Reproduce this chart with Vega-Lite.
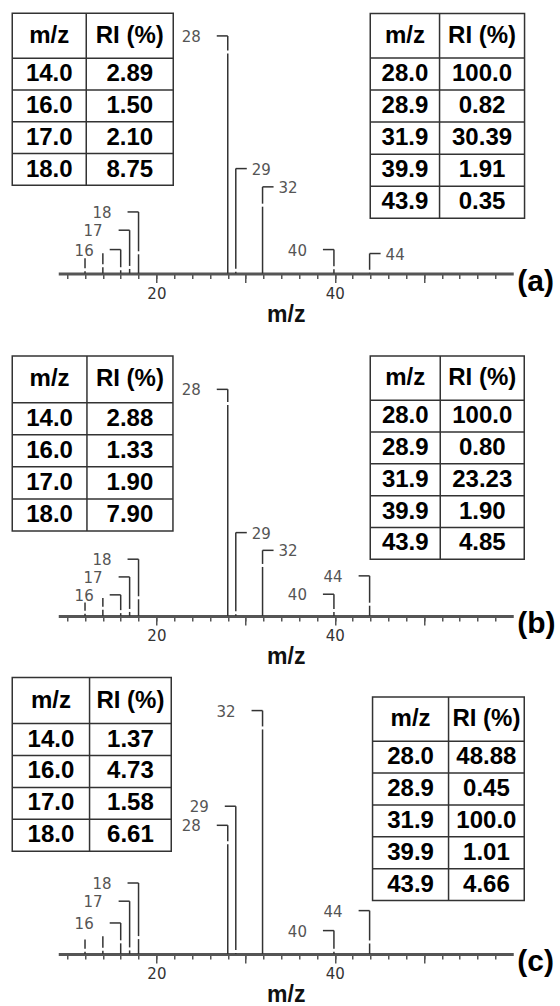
{
  "$schema": "https://vega.github.io/schema/vega-lite/v6.json",
  "background": "white",
  "padding": {"left": 11.25, "top": 12.25, "right": 5, "bottom": 5},
  "config": {"view": {"stroke": null}, "axis": {"grid": false}, "axisY": {"disable": true}},
  "datasets": {
    "peaksA": [
      {"mz": 12, "ri": 1.0, "lab": "", "ly": 7.0, "side": "N"},
      {"mz": 14, "ri": 2.89, "lab": "", "ly": 9.2, "side": "N"},
      {"mz": 16, "ri": 1.50, "lab": "16", "ly": 10.9, "side": "L"},
      {"mz": 17, "ri": 2.10, "lab": "17", "ly": 19.7, "side": "L"},
      {"mz": 18, "ri": 8.75, "lab": "18", "ly": 28.0, "side": "L"},
      {"mz": 28.0, "ri": 100.0, "lab": "28", "ly": 108.0, "side": "L"},
      {"mz": 28.9, "ri": 0.82, "lab": "29", "ly": 47.7, "side": "R"},
      {"mz": 31.9, "ri": 30.39, "lab": "32", "ly": 39.4, "side": "R"},
      {"mz": 39.9, "ri": 1.91, "lab": "40", "ly": 10.9, "side": "L"},
      {"mz": 43.9, "ri": 0.35, "lab": "44", "ly": 9.1, "side": "R"}
    ],
    "peaksB": [
      {"mz": 12, "ri": 1.0, "lab": "", "ly": 6.4, "side": "N"},
      {"mz": 14, "ri": 2.88, "lab": "", "ly": 8.5, "side": "N"},
      {"mz": 16, "ri": 1.33, "lab": "16", "ly": 10.0, "side": "L"},
      {"mz": 17, "ri": 1.90, "lab": "17", "ly": 18.5, "side": "L"},
      {"mz": 18, "ri": 7.90, "lab": "18", "ly": 26.9, "side": "L"},
      {"mz": 28.0, "ri": 100.0, "lab": "28", "ly": 107.4, "side": "L"},
      {"mz": 28.9, "ri": 0.80, "lab": "29", "ly": 39.5, "side": "R"},
      {"mz": 31.9, "ri": 23.23, "lab": "32", "ly": 31.1, "side": "R"},
      {"mz": 39.9, "ri": 1.90, "lab": "40", "ly": 10.3, "side": "L"},
      {"mz": 43.9, "ri": 4.85, "lab": "44", "ly": 19.0, "side": "L"}
    ],
    "peaksC": [
      {"mz": 12, "ri": 1.0, "lab": "", "ly": 6.4, "side": "N"},
      {"mz": 14, "ri": 1.37, "lab": "", "ly": 7.9, "side": "N"},
      {"mz": 16, "ri": 4.73, "lab": "16", "ly": 13.8, "side": "L"},
      {"mz": 17, "ri": 1.58, "lab": "17", "ly": 23.5, "side": "L"},
      {"mz": 18, "ri": 6.61, "lab": "18", "ly": 31.6, "side": "L"},
      {"mz": 28.0, "ri": 48.88, "lab": "28", "ly": 57.3, "side": "L"},
      {"mz": 28.9, "ri": 0.45, "lab": "29", "ly": 65.8, "side": "L"},
      {"mz": 31.9, "ri": 100.0, "lab": "32", "ly": 108.4, "side": "L"},
      {"mz": 39.9, "ri": 1.01, "lab": "40", "ly": 10.4, "side": "L"},
      {"mz": 43.9, "ri": 4.66, "lab": "44", "ly": 19.3, "side": "L"}
    ],
    "tabAL": [
      {"r": 0, "mz": "m/z", "ri": "RI (%)"},
      {"r": 1, "mz": "14.0", "ri": "2.89"},
      {"r": 2, "mz": "16.0", "ri": "1.50"},
      {"r": 3, "mz": "17.0", "ri": "2.10"},
      {"r": 4, "mz": "18.0", "ri": "8.75"}
    ],
    "tabAR": [
      {"r": 0, "mz": "m/z", "ri": "RI (%)"},
      {"r": 1, "mz": "28.0", "ri": "100.0"},
      {"r": 2, "mz": "28.9", "ri": "0.82"},
      {"r": 3, "mz": "31.9", "ri": "30.39"},
      {"r": 4, "mz": "39.9", "ri": "1.91"},
      {"r": 5, "mz": "43.9", "ri": "0.35"}
    ],
    "tabBL": [
      {"r": 0, "mz": "m/z", "ri": "RI (%)"},
      {"r": 1, "mz": "14.0", "ri": "2.88"},
      {"r": 2, "mz": "16.0", "ri": "1.33"},
      {"r": 3, "mz": "17.0", "ri": "1.90"},
      {"r": 4, "mz": "18.0", "ri": "7.90"}
    ],
    "tabBR": [
      {"r": 0, "mz": "m/z", "ri": "RI (%)"},
      {"r": 1, "mz": "28.0", "ri": "100.0"},
      {"r": 2, "mz": "28.9", "ri": "0.80"},
      {"r": 3, "mz": "31.9", "ri": "23.23"},
      {"r": 4, "mz": "39.9", "ri": "1.90"},
      {"r": 5, "mz": "43.9", "ri": "4.85"}
    ],
    "tabCL": [
      {"r": 0, "mz": "m/z", "ri": "RI (%)"},
      {"r": 1, "mz": "14.0", "ri": "1.37"},
      {"r": 2, "mz": "16.0", "ri": "4.73"},
      {"r": 3, "mz": "17.0", "ri": "1.58"},
      {"r": 4, "mz": "18.0", "ri": "6.61"}
    ],
    "tabCR": [
      {"r": 0, "mz": "m/z", "ri": "RI (%)"},
      {"r": 1, "mz": "28.0", "ri": "48.88"},
      {"r": 2, "mz": "28.9", "ri": "0.45"},
      {"r": 3, "mz": "31.9", "ri": "100.0"},
      {"r": 4, "mz": "39.9", "ri": "1.01"},
      {"r": 5, "mz": "43.9", "ri": "4.66"}
    ]
  },
  "bounds": "flush",
  "spacing": 40,
  "resolve": {"scale": {"x": "independent", "y": "independent"}},
  "vconcat": [
    {
      "width": 455, "height": 260.3,
      "resolve": {"scale": {"x": "independent", "y": "independent"}},
      "layer": [
        {
          "data": {"name": "peaksA"},
          "resolve": {"axis": {"x": "independent"}},
          "layer": [
            {"mark": {"type": "rule", "color": "#333", "strokeWidth": 1.5},
             "encoding": {
               "x": {"field": "mz", "type": "quantitative", "scale": {"domain": [9, 60], "nice": false, "zero": false},
                     "axis": {"orient": "bottom", "values": [10,12,14,16,18,20,22,24,26,28,30,32,34,36,38,40,42,44,46,48,50,52,54,56,58], "tickSize": 5, "tickWidth": 1.5, "tickColor": "#555", "labels": false, "domain": true, "domainWidth": 3, "domainColor": "#555", "title": null}},
               "y": {"field": "ri", "type": "quantitative", "scale": {"domain": [0, 118.3], "nice": false, "zero": false}, "axis": null},
               "y2": {"datum": 0}}},
            {"mark": {"type": "rule", "color": "#333", "strokeWidth": 1.5, "yOffset": -3},
             "encoding": {
               "x": {"field": "mz", "type": "quantitative",
                     "axis": {"orient": "bottom", "values": [20, 30, 40, 50], "tickSize": 9, "tickWidth": 1.5, "tickColor": "#555", "domain": false, "labelExpr": "datum.value == 20 || datum.value == 40 ? datum.label : ''", "labelFont": "DejaVu Sans", "labelFontSize": 15, "labelColor": "#333", "labelPadding": 4, "title": "m/z", "titleFont": "Liberation Sans", "titleFontSize": 23, "titleFontWeight": "bold", "titleColor": "#111", "titlePadding": 2}},
               "y": {"field": "ri", "type": "quantitative", "axis": null},
               "y2": {"field": "ly"}}},
            {"transform": [{"filter": "datum.side == 'L'"}],
             "mark": {"type": "rule", "color": "#333", "strokeWidth": 1.5, "x2Offset": -11},
             "encoding": {"x": {"field": "mz", "type": "quantitative", "axis": null}, "x2": {"field": "mz"}, "y": {"field": "ly", "type": "quantitative", "axis": null}}},
            {"transform": [{"filter": "datum.side == 'R'"}],
             "mark": {"type": "rule", "color": "#333", "strokeWidth": 1.5, "x2Offset": 11},
             "encoding": {"x": {"field": "mz", "type": "quantitative", "axis": null}, "x2": {"field": "mz"}, "y": {"field": "ly", "type": "quantitative", "axis": null}}},
            {"transform": [{"filter": "datum.side == 'L'"}],
             "mark": {"type": "text", "font": "DejaVu Sans", "fontSize": 15, "color": "#555", "align": "right", "baseline": "middle", "dx": -27, "dy": 1},
             "encoding": {"x": {"field": "mz", "type": "quantitative", "axis": null}, "y": {"field": "ly", "type": "quantitative", "axis": null}, "text": {"field": "lab"}}},
            {"transform": [{"filter": "datum.side == 'R'"}],
             "mark": {"type": "text", "font": "DejaVu Sans", "fontSize": 15, "color": "#555", "align": "left", "baseline": "middle", "dx": 16, "dy": 1},
             "encoding": {"x": {"field": "mz", "type": "quantitative", "axis": null}, "y": {"field": "ly", "type": "quantitative", "axis": null}, "text": {"field": "lab"}}},
            {"data": {"values": [{"p": "(a)"}]},
             "mark": {"type": "text", "font": "Liberation Sans", "fontSize": 30, "fontWeight": "bold", "color": "#000", "align": "left", "baseline": "middle", "dx": 4, "dy": 8},
             "encoding": {"x": {"datum": 60, "type": "quantitative", "axis": null}, "y": {"datum": 0, "type": "quantitative", "axis": null}, "text": {"field": "p"}}}
          ]
        },
        {
          "data": {"name": "tabAL"},
          "layer": [
            {"transform": [{"filter": "datum.r > 0"}],
             "mark": {"type": "rule", "color": "#333", "strokeWidth": 1.5},
             "encoding": {
               "x": {"datum": 0, "type": "quantitative", "scale": {"domain": [0, 1, 2], "range": [-46, 28, 115], "zero": false, "nice": false}, "axis": null},
               "x2": {"datum": 2},
               "y": {"field": "r", "type": "quantitative", "scale": {"domain": [0, 1, 5], "range": [0, 45, 172], "zero": false, "nice": false}, "axis": null}}},
            {"transform": [{"filter": "datum.r > 0"}],
             "mark": {"type": "text", "font": "Liberation Sans", "fontSize": 24, "fontWeight": "bold", "color": "#000", "baseline": "middle", "dy": 16},
             "encoding": {"x": {"datum": 0.5, "type": "quantitative", "axis": null}, "y": {"field": "r", "type": "quantitative", "axis": null}, "text": {"field": "mz"}}},
            {"transform": [{"filter": "datum.r > 0"}],
             "mark": {"type": "text", "font": "Liberation Sans", "fontSize": 24, "fontWeight": "bold", "color": "#000", "baseline": "middle", "dy": 16},
             "encoding": {"x": {"datum": 1.5, "type": "quantitative", "axis": null}, "y": {"field": "r", "type": "quantitative", "axis": null}, "text": {"field": "ri"}}},
            {"transform": [{"filter": "datum.r == 0"}],
             "mark": {"type": "text", "font": "Liberation Sans", "fontSize": 24, "fontWeight": "bold", "color": "#000", "baseline": "middle", "dy": 22.5},
             "encoding": {"x": {"datum": 0.5, "type": "quantitative", "axis": null}, "y": {"field": "r", "type": "quantitative", "axis": null}, "text": {"field": "mz"}}},
            {"transform": [{"filter": "datum.r == 0"}],
             "mark": {"type": "text", "font": "Liberation Sans", "fontSize": 24, "fontWeight": "bold", "color": "#000", "baseline": "middle", "dy": 22.5},
             "encoding": {"x": {"datum": 1.5, "type": "quantitative", "axis": null}, "y": {"field": "r", "type": "quantitative", "axis": null}, "text": {"field": "ri"}}},
            {"transform": [{"filter": "datum.r == 0"}],
             "mark": {"type": "rect", "filled": false, "color": "#333", "strokeWidth": 1.5},
             "encoding": {"x": {"datum": 0, "type": "quantitative", "axis": null}, "x2": {"datum": 2}, "y": {"datum": 0, "type": "quantitative", "axis": null}, "y2": {"datum": 5}}},
            {"transform": [{"filter": "datum.r == 0"}],
             "mark": {"type": "rule", "color": "#333", "strokeWidth": 1.5},
             "encoding": {"x": {"datum": 1, "type": "quantitative", "axis": null}, "y": {"datum": 0, "type": "quantitative", "axis": null}, "y2": {"datum": 5}}}
          ]
        },
        {
          "data": {"name": "tabAR"},
          "layer": [
            {"transform": [{"filter": "datum.r > 0"}],
             "mark": {"type": "rule", "color": "#333", "strokeWidth": 1.5},
             "encoding": {
               "x": {"datum": 0, "type": "quantitative", "scale": {"domain": [0, 1, 2], "range": [312, 381.3, 466.3], "zero": false, "nice": false}, "axis": null},
               "x2": {"datum": 2},
               "y": {"field": "r", "type": "quantitative", "scale": {"domain": [0, 1, 6], "range": [0.3, 44.7, 205], "zero": false, "nice": false}, "axis": null}}},
            {"transform": [{"filter": "datum.r > 0"}],
             "mark": {"type": "text", "font": "Liberation Sans", "fontSize": 24, "fontWeight": "bold", "color": "#000", "baseline": "middle", "dy": 16},
             "encoding": {"x": {"datum": 0.5, "type": "quantitative", "axis": null}, "y": {"field": "r", "type": "quantitative", "axis": null}, "text": {"field": "mz"}}},
            {"transform": [{"filter": "datum.r > 0"}],
             "mark": {"type": "text", "font": "Liberation Sans", "fontSize": 24, "fontWeight": "bold", "color": "#000", "baseline": "middle", "dy": 16},
             "encoding": {"x": {"datum": 1.5, "type": "quantitative", "axis": null}, "y": {"field": "r", "type": "quantitative", "axis": null}, "text": {"field": "ri"}}},
            {"transform": [{"filter": "datum.r == 0"}],
             "mark": {"type": "text", "font": "Liberation Sans", "fontSize": 24, "fontWeight": "bold", "color": "#000", "baseline": "middle", "dy": 22},
             "encoding": {"x": {"datum": 0.5, "type": "quantitative", "axis": null}, "y": {"field": "r", "type": "quantitative", "axis": null}, "text": {"field": "mz"}}},
            {"transform": [{"filter": "datum.r == 0"}],
             "mark": {"type": "text", "font": "Liberation Sans", "fontSize": 24, "fontWeight": "bold", "color": "#000", "baseline": "middle", "dy": 22},
             "encoding": {"x": {"datum": 1.5, "type": "quantitative", "axis": null}, "y": {"field": "r", "type": "quantitative", "axis": null}, "text": {"field": "ri"}}},
            {"transform": [{"filter": "datum.r == 0"}],
             "mark": {"type": "rect", "filled": false, "color": "#333", "strokeWidth": 1.5},
             "encoding": {"x": {"datum": 0, "type": "quantitative", "axis": null}, "x2": {"datum": 2}, "y": {"datum": 0, "type": "quantitative", "axis": null}, "y2": {"datum": 6}}},
            {"transform": [{"filter": "datum.r == 0"}],
             "mark": {"type": "rule", "color": "#333", "strokeWidth": 1.5},
             "encoding": {"x": {"datum": 1, "type": "quantitative", "axis": null}, "y": {"datum": 0, "type": "quantitative", "axis": null}, "y2": {"datum": 6}}}
          ]
        }
      ]
    },
    {
      "width": 455, "height": 301.7,
      "resolve": {"scale": {"x": "independent", "y": "independent"}},
      "layer": [
        {
          "data": {"name": "peaksB"},
          "resolve": {"axis": {"x": "independent"}},
          "layer": [
            {"mark": {"type": "rule", "color": "#333", "strokeWidth": 1.5},
             "encoding": {
               "x": {"field": "mz", "type": "quantitative", "scale": {"domain": [9, 60], "nice": false, "zero": false},
                     "axis": {"orient": "bottom", "values": [10,12,14,16,18,20,22,24,26,28,30,32,34,36,38,40,42,44,46,48,50,52,54,56,58], "tickSize": 5, "tickWidth": 1.5, "tickColor": "#555", "labels": false, "domain": true, "domainWidth": 3, "domainColor": "#555", "title": null}},
               "y": {"field": "ri", "type": "quantitative", "scale": {"domain": [0, 143.0], "nice": false, "zero": false}, "axis": null},
               "y2": {"datum": 0}}},
            {"mark": {"type": "rule", "color": "#333", "strokeWidth": 1.5, "yOffset": -3},
             "encoding": {
               "x": {"field": "mz", "type": "quantitative",
                     "axis": {"orient": "bottom", "values": [20, 30, 40, 50], "tickSize": 9, "tickWidth": 1.5, "tickColor": "#555", "domain": false, "labelExpr": "datum.value == 20 || datum.value == 40 ? datum.label : ''", "labelFont": "DejaVu Sans", "labelFontSize": 15, "labelColor": "#333", "labelPadding": 4, "title": "m/z", "titleFont": "Liberation Sans", "titleFontSize": 23, "titleFontWeight": "bold", "titleColor": "#111", "titlePadding": 2}},
               "y": {"field": "ri", "type": "quantitative", "axis": null},
               "y2": {"field": "ly"}}},
            {"transform": [{"filter": "datum.side == 'L'"}],
             "mark": {"type": "rule", "color": "#333", "strokeWidth": 1.5, "x2Offset": -11},
             "encoding": {"x": {"field": "mz", "type": "quantitative", "axis": null}, "x2": {"field": "mz"}, "y": {"field": "ly", "type": "quantitative", "axis": null}}},
            {"transform": [{"filter": "datum.side == 'R'"}],
             "mark": {"type": "rule", "color": "#333", "strokeWidth": 1.5, "x2Offset": 11},
             "encoding": {"x": {"field": "mz", "type": "quantitative", "axis": null}, "x2": {"field": "mz"}, "y": {"field": "ly", "type": "quantitative", "axis": null}}},
            {"transform": [{"filter": "datum.side == 'L'"}],
             "mark": {"type": "text", "font": "DejaVu Sans", "fontSize": 15, "color": "#555", "align": "right", "baseline": "middle", "dx": -27, "dy": 1},
             "encoding": {"x": {"field": "mz", "type": "quantitative", "axis": null}, "y": {"field": "ly", "type": "quantitative", "axis": null}, "text": {"field": "lab"}}},
            {"transform": [{"filter": "datum.side == 'R'"}],
             "mark": {"type": "text", "font": "DejaVu Sans", "fontSize": 15, "color": "#555", "align": "left", "baseline": "middle", "dx": 16, "dy": 1},
             "encoding": {"x": {"field": "mz", "type": "quantitative", "axis": null}, "y": {"field": "ly", "type": "quantitative", "axis": null}, "text": {"field": "lab"}}},
            {"data": {"values": [{"p": "(b)"}]},
             "mark": {"type": "text", "font": "Liberation Sans", "fontSize": 30, "fontWeight": "bold", "color": "#000", "align": "left", "baseline": "middle", "dx": 4, "dy": 8},
             "encoding": {"x": {"datum": 60, "type": "quantitative", "axis": null}, "y": {"datum": 0, "type": "quantitative", "axis": null}, "text": {"field": "p"}}}
          ]
        },
        {
          "data": {"name": "tabBL"},
          "layer": [
            {"transform": [{"filter": "datum.r > 0"}],
             "mark": {"type": "rule", "color": "#333", "strokeWidth": 1.5},
             "encoding": {
               "x": {"datum": 0, "type": "quantitative", "scale": {"domain": [0, 1, 2], "range": [-46, 28.7, 114.7], "zero": false, "nice": false}, "axis": null},
               "x2": {"datum": 2},
               "y": {"field": "r", "type": "quantitative", "scale": {"domain": [0, 1, 5], "range": [41.7, 88.4, 216.7], "zero": false, "nice": false}, "axis": null}}},
            {"transform": [{"filter": "datum.r > 0"}],
             "mark": {"type": "text", "font": "Liberation Sans", "fontSize": 24, "fontWeight": "bold", "color": "#000", "baseline": "middle", "dy": 16},
             "encoding": {"x": {"datum": 0.5, "type": "quantitative", "axis": null}, "y": {"field": "r", "type": "quantitative", "axis": null}, "text": {"field": "mz"}}},
            {"transform": [{"filter": "datum.r > 0"}],
             "mark": {"type": "text", "font": "Liberation Sans", "fontSize": 24, "fontWeight": "bold", "color": "#000", "baseline": "middle", "dy": 16},
             "encoding": {"x": {"datum": 1.5, "type": "quantitative", "axis": null}, "y": {"field": "r", "type": "quantitative", "axis": null}, "text": {"field": "ri"}}},
            {"transform": [{"filter": "datum.r == 0"}],
             "mark": {"type": "text", "font": "Liberation Sans", "fontSize": 24, "fontWeight": "bold", "color": "#000", "baseline": "middle", "dy": 23},
             "encoding": {"x": {"datum": 0.5, "type": "quantitative", "axis": null}, "y": {"field": "r", "type": "quantitative", "axis": null}, "text": {"field": "mz"}}},
            {"transform": [{"filter": "datum.r == 0"}],
             "mark": {"type": "text", "font": "Liberation Sans", "fontSize": 24, "fontWeight": "bold", "color": "#000", "baseline": "middle", "dy": 23},
             "encoding": {"x": {"datum": 1.5, "type": "quantitative", "axis": null}, "y": {"field": "r", "type": "quantitative", "axis": null}, "text": {"field": "ri"}}},
            {"transform": [{"filter": "datum.r == 0"}],
             "mark": {"type": "rect", "filled": false, "color": "#333", "strokeWidth": 1.5},
             "encoding": {"x": {"datum": 0, "type": "quantitative", "axis": null}, "x2": {"datum": 2}, "y": {"datum": 0, "type": "quantitative", "axis": null}, "y2": {"datum": 5}}},
            {"transform": [{"filter": "datum.r == 0"}],
             "mark": {"type": "rule", "color": "#333", "strokeWidth": 1.5},
             "encoding": {"x": {"datum": 1, "type": "quantitative", "axis": null}, "y": {"datum": 0, "type": "quantitative", "axis": null}, "y2": {"datum": 5}}}
          ]
        },
        {
          "data": {"name": "tabBR"},
          "layer": [
            {"transform": [{"filter": "datum.r > 0"}],
             "mark": {"type": "rule", "color": "#333", "strokeWidth": 1.5},
             "encoding": {
               "x": {"datum": 0, "type": "quantitative", "scale": {"domain": [0, 1, 2], "range": [312, 382, 466], "zero": false, "nice": false}, "axis": null},
               "x2": {"datum": 2},
               "y": {"field": "r", "type": "quantitative", "scale": {"domain": [0, 1, 6], "range": [41.7, 86, 245], "zero": false, "nice": false}, "axis": null}}},
            {"transform": [{"filter": "datum.r > 0"}],
             "mark": {"type": "text", "font": "Liberation Sans", "fontSize": 24, "fontWeight": "bold", "color": "#000", "baseline": "middle", "dy": 16},
             "encoding": {"x": {"datum": 0.5, "type": "quantitative", "axis": null}, "y": {"field": "r", "type": "quantitative", "axis": null}, "text": {"field": "mz"}}},
            {"transform": [{"filter": "datum.r > 0"}],
             "mark": {"type": "text", "font": "Liberation Sans", "fontSize": 24, "fontWeight": "bold", "color": "#000", "baseline": "middle", "dy": 16},
             "encoding": {"x": {"datum": 1.5, "type": "quantitative", "axis": null}, "y": {"field": "r", "type": "quantitative", "axis": null}, "text": {"field": "ri"}}},
            {"transform": [{"filter": "datum.r == 0"}],
             "mark": {"type": "text", "font": "Liberation Sans", "fontSize": 24, "fontWeight": "bold", "color": "#000", "baseline": "middle", "dy": 22},
             "encoding": {"x": {"datum": 0.5, "type": "quantitative", "axis": null}, "y": {"field": "r", "type": "quantitative", "axis": null}, "text": {"field": "mz"}}},
            {"transform": [{"filter": "datum.r == 0"}],
             "mark": {"type": "text", "font": "Liberation Sans", "fontSize": 24, "fontWeight": "bold", "color": "#000", "baseline": "middle", "dy": 22},
             "encoding": {"x": {"datum": 1.5, "type": "quantitative", "axis": null}, "y": {"field": "r", "type": "quantitative", "axis": null}, "text": {"field": "ri"}}},
            {"transform": [{"filter": "datum.r == 0"}],
             "mark": {"type": "rect", "filled": false, "color": "#333", "strokeWidth": 1.5},
             "encoding": {"x": {"datum": 0, "type": "quantitative", "axis": null}, "x2": {"datum": 2}, "y": {"datum": 0, "type": "quantitative", "axis": null}, "y2": {"datum": 6}}},
            {"transform": [{"filter": "datum.r == 0"}],
             "mark": {"type": "rule", "color": "#333", "strokeWidth": 1.5},
             "encoding": {"x": {"datum": 1, "type": "quantitative", "axis": null}, "y": {"datum": 0, "type": "quantitative", "axis": null}, "y2": {"datum": 6}}}
          ]
        }
      ]
    },
    {
      "width": 455, "height": 297.7,
      "resolve": {"scale": {"x": "independent", "y": "independent"}},
      "layer": [
        {
          "data": {"name": "peaksC"},
          "resolve": {"axis": {"x": "independent"}},
          "layer": [
            {"mark": {"type": "rule", "color": "#333", "strokeWidth": 1.5},
             "encoding": {
               "x": {"field": "mz", "type": "quantitative", "scale": {"domain": [9, 60], "nice": false, "zero": false},
                     "axis": {"orient": "bottom", "values": [10,12,14,16,18,20,22,24,26,28,30,32,34,36,38,40,42,44,46,48,50,52,54,56,58], "tickSize": 5, "tickWidth": 1.5, "tickColor": "#555", "labels": false, "domain": true, "domainWidth": 3, "domainColor": "#555", "title": null}},
               "y": {"field": "ri", "type": "quantitative", "scale": {"domain": [0, 132.6], "nice": false, "zero": false}, "axis": null},
               "y2": {"datum": 0}}},
            {"mark": {"type": "rule", "color": "#333", "strokeWidth": 1.5, "yOffset": -3},
             "encoding": {
               "x": {"field": "mz", "type": "quantitative",
                     "axis": {"orient": "bottom", "values": [20, 30, 40, 50], "tickSize": 9, "tickWidth": 1.5, "tickColor": "#555", "domain": false, "labelExpr": "datum.value == 20 || datum.value == 40 ? datum.label : ''", "labelFont": "DejaVu Sans", "labelFontSize": 15, "labelColor": "#333", "labelPadding": 4, "title": "m/z", "titleFont": "Liberation Sans", "titleFontSize": 23, "titleFontWeight": "bold", "titleColor": "#111", "titlePadding": 2}},
               "y": {"field": "ri", "type": "quantitative", "axis": null},
               "y2": {"field": "ly"}}},
            {"transform": [{"filter": "datum.side == 'L'"}],
             "mark": {"type": "rule", "color": "#333", "strokeWidth": 1.5, "x2Offset": -11},
             "encoding": {"x": {"field": "mz", "type": "quantitative", "axis": null}, "x2": {"field": "mz"}, "y": {"field": "ly", "type": "quantitative", "axis": null}}},
            {"transform": [{"filter": "datum.side == 'R'"}],
             "mark": {"type": "rule", "color": "#333", "strokeWidth": 1.5, "x2Offset": 11},
             "encoding": {"x": {"field": "mz", "type": "quantitative", "axis": null}, "x2": {"field": "mz"}, "y": {"field": "ly", "type": "quantitative", "axis": null}}},
            {"transform": [{"filter": "datum.side == 'L'"}],
             "mark": {"type": "text", "font": "DejaVu Sans", "fontSize": 15, "color": "#555", "align": "right", "baseline": "middle", "dx": -27, "dy": 1},
             "encoding": {"x": {"field": "mz", "type": "quantitative", "axis": null}, "y": {"field": "ly", "type": "quantitative", "axis": null}, "text": {"field": "lab"}}},
            {"transform": [{"filter": "datum.side == 'R'"}],
             "mark": {"type": "text", "font": "DejaVu Sans", "fontSize": 15, "color": "#555", "align": "left", "baseline": "middle", "dx": 16, "dy": 1},
             "encoding": {"x": {"field": "mz", "type": "quantitative", "axis": null}, "y": {"field": "ly", "type": "quantitative", "axis": null}, "text": {"field": "lab"}}},
            {"data": {"values": [{"p": "(c)"}]},
             "mark": {"type": "text", "font": "Liberation Sans", "fontSize": 30, "fontWeight": "bold", "color": "#000", "align": "left", "baseline": "middle", "dx": 4, "dy": 8},
             "encoding": {"x": {"datum": 60, "type": "quantitative", "axis": null}, "y": {"datum": 0, "type": "quantitative", "axis": null}, "text": {"field": "p"}}}
          ]
        },
        {
          "data": {"name": "tabCL"},
          "layer": [
            {"transform": [{"filter": "datum.r > 0"}],
             "mark": {"type": "rule", "color": "#333", "strokeWidth": 1.5},
             "encoding": {
               "x": {"datum": 0, "type": "quantitative", "scale": {"domain": [0, 1, 2], "range": [-46, 31.3, 113], "zero": false, "nice": false}, "axis": null},
               "x2": {"datum": 2},
               "y": {"field": "r", "type": "quantitative", "scale": {"domain": [0, 1, 5], "range": [21.3, 67.3, 195], "zero": false, "nice": false}, "axis": null}}},
            {"transform": [{"filter": "datum.r > 0"}],
             "mark": {"type": "text", "font": "Liberation Sans", "fontSize": 24, "fontWeight": "bold", "color": "#000", "baseline": "middle", "dy": 16},
             "encoding": {"x": {"datum": 0.5, "type": "quantitative", "axis": null}, "y": {"field": "r", "type": "quantitative", "axis": null}, "text": {"field": "mz"}}},
            {"transform": [{"filter": "datum.r > 0"}],
             "mark": {"type": "text", "font": "Liberation Sans", "fontSize": 24, "fontWeight": "bold", "color": "#000", "baseline": "middle", "dy": 16},
             "encoding": {"x": {"datum": 1.5, "type": "quantitative", "axis": null}, "y": {"field": "r", "type": "quantitative", "axis": null}, "text": {"field": "ri"}}},
            {"transform": [{"filter": "datum.r == 0"}],
             "mark": {"type": "text", "font": "Liberation Sans", "fontSize": 24, "fontWeight": "bold", "color": "#000", "baseline": "middle", "dy": 23},
             "encoding": {"x": {"datum": 0.5, "type": "quantitative", "axis": null}, "y": {"field": "r", "type": "quantitative", "axis": null}, "text": {"field": "mz"}}},
            {"transform": [{"filter": "datum.r == 0"}],
             "mark": {"type": "text", "font": "Liberation Sans", "fontSize": 24, "fontWeight": "bold", "color": "#000", "baseline": "middle", "dy": 23},
             "encoding": {"x": {"datum": 1.5, "type": "quantitative", "axis": null}, "y": {"field": "r", "type": "quantitative", "axis": null}, "text": {"field": "ri"}}},
            {"transform": [{"filter": "datum.r == 0"}],
             "mark": {"type": "rect", "filled": false, "color": "#333", "strokeWidth": 1.5},
             "encoding": {"x": {"datum": 0, "type": "quantitative", "axis": null}, "x2": {"datum": 2}, "y": {"datum": 0, "type": "quantitative", "axis": null}, "y2": {"datum": 5}}},
            {"transform": [{"filter": "datum.r == 0"}],
             "mark": {"type": "rule", "color": "#333", "strokeWidth": 1.5},
             "encoding": {"x": {"datum": 1, "type": "quantitative", "axis": null}, "y": {"datum": 0, "type": "quantitative", "axis": null}, "y2": {"datum": 5}}}
          ]
        },
        {
          "data": {"name": "tabCR"},
          "layer": [
            {"transform": [{"filter": "datum.r > 0"}],
             "mark": {"type": "rule", "color": "#333", "strokeWidth": 1.5},
             "encoding": {
               "x": {"datum": 0, "type": "quantitative", "scale": {"domain": [0, 1, 2], "range": [314.3, 390.3, 466], "zero": false, "nice": false}, "axis": null},
               "x2": {"datum": 2},
               "y": {"field": "r", "type": "quantitative", "scale": {"domain": [0, 1, 6], "range": [40.7, 85, 244.3], "zero": false, "nice": false}, "axis": null}}},
            {"transform": [{"filter": "datum.r > 0"}],
             "mark": {"type": "text", "font": "Liberation Sans", "fontSize": 24, "fontWeight": "bold", "color": "#000", "baseline": "middle", "dy": 16},
             "encoding": {"x": {"datum": 0.5, "type": "quantitative", "axis": null}, "y": {"field": "r", "type": "quantitative", "axis": null}, "text": {"field": "mz"}}},
            {"transform": [{"filter": "datum.r > 0"}],
             "mark": {"type": "text", "font": "Liberation Sans", "fontSize": 24, "fontWeight": "bold", "color": "#000", "baseline": "middle", "dy": 16},
             "encoding": {"x": {"datum": 1.5, "type": "quantitative", "axis": null}, "y": {"field": "r", "type": "quantitative", "axis": null}, "text": {"field": "ri"}}},
            {"transform": [{"filter": "datum.r == 0"}],
             "mark": {"type": "text", "font": "Liberation Sans", "fontSize": 24, "fontWeight": "bold", "color": "#000", "baseline": "middle", "dy": 22},
             "encoding": {"x": {"datum": 0.5, "type": "quantitative", "axis": null}, "y": {"field": "r", "type": "quantitative", "axis": null}, "text": {"field": "mz"}}},
            {"transform": [{"filter": "datum.r == 0"}],
             "mark": {"type": "text", "font": "Liberation Sans", "fontSize": 24, "fontWeight": "bold", "color": "#000", "baseline": "middle", "dy": 22},
             "encoding": {"x": {"datum": 1.5, "type": "quantitative", "axis": null}, "y": {"field": "r", "type": "quantitative", "axis": null}, "text": {"field": "ri"}}},
            {"transform": [{"filter": "datum.r == 0"}],
             "mark": {"type": "rect", "filled": false, "color": "#333", "strokeWidth": 1.5},
             "encoding": {"x": {"datum": 0, "type": "quantitative", "axis": null}, "x2": {"datum": 2}, "y": {"datum": 0, "type": "quantitative", "axis": null}, "y2": {"datum": 6}}},
            {"transform": [{"filter": "datum.r == 0"}],
             "mark": {"type": "rule", "color": "#333", "strokeWidth": 1.5},
             "encoding": {"x": {"datum": 1, "type": "quantitative", "axis": null}, "y": {"datum": 0, "type": "quantitative", "axis": null}, "y2": {"datum": 6}}}
          ]
        }
      ]
    }
  ]
}
